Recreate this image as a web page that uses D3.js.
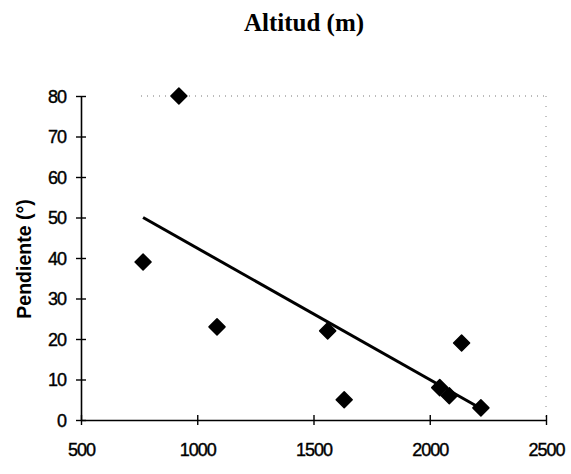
<!DOCTYPE html>
<html>
<head>
<meta charset="utf-8">
<script src="https://cdn.jsdelivr.net/npm/d3@7"></script>
<style>
  html, body { margin: 0; padding: 0; background: #fff; }
  svg { display: block; }
  .tick text { font-family: "Liberation Sans", Arial, sans-serif; }
</style>
</head>
<body>
<svg id="chart" width="571" height="474"></svg>
<script>
// ---- data ----
const altitud   = [767, 921, 1085, 1561, 1632, 2043, 2084, 2137, 2220];
const pendiente = [39, 80, 23, 22, 5, 8, 6, 19, 3];
const xTicks = [500, 1000, 1500, 2000, 2500];
const yTicks = [0, 10, 20, 30, 40, 50, 60, 70, 80];
const titleText = "Altitud (m)";
const yTitleText = "Pendiente (°)";

const svg = d3.select("#chart");
const plot = { left: 81, right: 546, top: 96, bottom: 420 };

const x = d3.scaleLinear().domain([500, 2500]).range([plot.left, plot.right]);
const y = d3.scaleLinear().domain([0, 80]).range([plot.bottom, plot.top]);

// title
svg.append("text")
  .attr("x", 304).attr("y", 31)
  .attr("text-anchor", "middle")
  .attr("font-family", "'Liberation Serif', 'Times New Roman', serif")
  .attr("font-weight", "bold")
  .attr("font-size", 25)
  .text(titleText);

// faint dotted frame (top & right)
svg.append("line")
  .attr("x1", x(500) + 60).attr("x2", x(2500)).attr("y1", y(80)).attr("y2", y(80))
  .attr("stroke", "#777").attr("stroke-width", 1).attr("stroke-dasharray", "1,5");
svg.append("line")
  .attr("x1", x(2500)).attr("x2", x(2500)).attr("y1", y(80)).attr("y2", y(0))
  .attr("stroke", "#888").attr("stroke-width", 1).attr("stroke-dasharray", "1,9");

// axes
const yAxis = d3.axisLeft(y).tickValues(yTicks).tickSize(5).tickPadding(10).tickSizeOuter(0);
const gy = svg.append("g").attr("transform", `translate(${plot.left},0)`).call(yAxis);
gy.select(".domain").attr("stroke", "#000").attr("stroke-width", 1.6);
gy.selectAll(".tick line").attr("x2", 5).attr("x1", -5).attr("stroke-width", 1.4);
gy.selectAll(".tick text")
  .attr("font-size", 18).attr("fill", "#000").attr("letter-spacing", -1)
  .attr("stroke", "#000").attr("stroke-width", 0.4).attr("dy", "0.35em");

const xAxis = d3.axisBottom(x).tickValues(xTicks).tickFormat(d3.format("d"))
  .tickSize(5).tickPadding(18).tickSizeOuter(0);
const gx = svg.append("g").attr("transform", `translate(0,${plot.bottom})`).call(xAxis);
gx.select(".domain").attr("stroke", "#000").attr("stroke-width", 1.4);
gx.selectAll(".tick line").attr("y1", -5).attr("y2", 5).attr("stroke-width", 1.4);
gx.selectAll(".tick text")
  .attr("font-size", 18).attr("fill", "#000").attr("letter-spacing", -1)
  .attr("stroke", "#000").attr("stroke-width", 0.4);

// y title
svg.append("text")
  .attr("transform", `translate(31,259) rotate(-90)`)
  .attr("text-anchor", "middle")
  .attr("font-family", "'Liberation Sans', Arial, sans-serif")
  .attr("font-weight", "bold")
  .attr("font-size", 19.5)
  .text(yTitleText);

// linear trend (least squares on the data)
const pts = altitud.map((a, i) => [a, pendiente[i]]);
const mx = d3.mean(altitud), my = d3.mean(pendiente);
const slope = d3.sum(pts, p => (p[0] - mx) * (p[1] - my)) / d3.sum(pts, p => (p[0] - mx) ** 2);
const icpt = my - slope * mx;
const [x0, x1] = d3.extent(altitud);
svg.append("line")
  .attr("x1", x(x0)).attr("y1", y(icpt + slope * x0))
  .attr("x2", x(x1)).attr("y2", y(icpt + slope * x1))
  .attr("stroke", "#000").attr("stroke-width", 3);

// diamond markers
const r = 8;
svg.append("g").selectAll("path").data(pts).join("path")
  .attr("transform", d => `translate(${x(d[0])},${y(d[1])})`)
  .attr("d", `M0,${-r}L${r},0L0,${r}L${-r},0Z`)
  .attr("fill", "#000")
  .attr("stroke", "#000").attr("stroke-width", 1.5).attr("stroke-linejoin", "round");
</script>
</body>
</html>
